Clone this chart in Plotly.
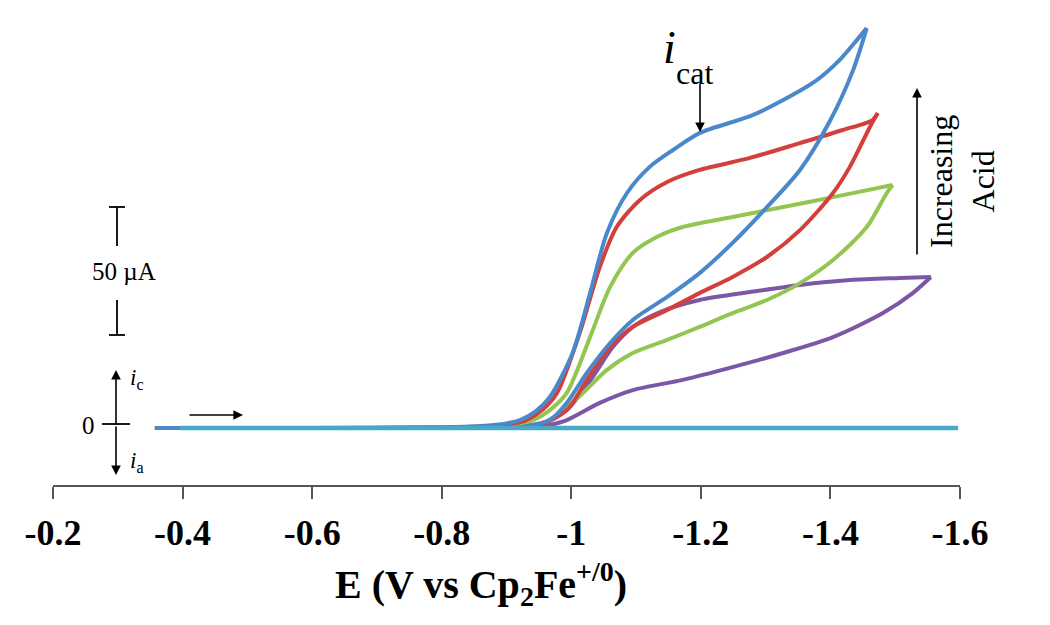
import plotly.graph_objects as go

# ---------------- data (E in V vs Cp2Fe+/0, current in µA, cathodic positive) -------------
blue_fwd_E = [-0.357, -0.6, -0.8, -0.86, -0.90, -0.921, -0.945, -0.967, -1.002, -1.029, -1.055, -1.086, -1.121, -1.157, -1.198, -1.278, -1.327, -1.379, -1.414, -1.441, -1.456]
blue_fwd_I = [0, 0, 0.3, 0.8, 1.8, 3.1, 6.5, 12.1, 29.3, 52.7, 76.2, 91.8, 102.0, 108.6, 115.2, 122.0, 128.1, 135.9, 143.7, 151.6, 156.2]
blue_ret_E = [-1.456, -1.435, -1.400, -1.353, -1.302, -1.249, -1.198, -1.148, -1.095, -1.060, -1.024, -0.993, -0.967, -0.93, -0.90]
blue_ret_I = [156.2, 139.8, 120.3, 100.8, 86.3, 72.3, 60.5, 51.2, 42.2, 33.2, 21.5, 9.8, 3.1, 0.6, 0]

red_fwd_E = [-0.376, -0.6, -0.8, -0.86, -0.905, -0.931, -0.955, -0.978, -1.013, -1.044, -1.070, -1.106, -1.148, -1.198, -1.276, -1.353, -1.419, -1.465, -1.473]
red_fwd_I = [0, 0, 0.2, 0.6, 1.5, 3.1, 7.0, 13.7, 37.1, 62.9, 78.5, 89.1, 96.1, 100.8, 105.5, 111.3, 116.4, 120.3, 123.0]
red_ret_E = [-1.473, -1.461, -1.430, -1.404, -1.353, -1.302, -1.249, -1.198, -1.148, -1.095, -1.060, -1.024, -0.993, -0.95, -0.92]
red_ret_I = [123.0, 117.6, 102.0, 91.8, 77.3, 66.8, 59.0, 52.7, 46.1, 39.5, 31.6, 18.8, 7.0, 0.8, 0]

green_fwd_E = [-0.40, -0.6, -0.8, -0.87, -0.915, -0.941, -0.967, -0.993, -1.029, -1.060, -1.095, -1.132, -1.172, -1.249, -1.327, -1.404, -1.496]
green_fwd_I = [0, 0, 0.2, 0.6, 1.5, 3.1, 7.0, 13.7, 35.5, 55.1, 68.4, 74.6, 78.5, 82.4, 86.3, 90.2, 94.9]
green_ret_E = [-1.496, -1.487, -1.456, -1.404, -1.353, -1.302, -1.249, -1.198, -1.148, -1.095, -1.055, -1.018, -0.982, -0.95, -0.93]
green_ret_I = [94.9, 91.8, 78.5, 65.6, 56.6, 50.0, 44.9, 39.5, 34.4, 29.3, 22.7, 13.7, 5.9, 1.0, 0]

purple_fwd_E = [-0.40, -0.6, -0.85, -0.92, -0.956, -0.993, -1.033, -1.064, -1.095, -1.137, -1.198, -1.276, -1.353, -1.430, -1.507, -1.555]
purple_fwd_I = [0, 0, 0.2, 0.8, 2.0, 7.0, 19.9, 31.6, 39.5, 45.3, 50.0, 53.1, 55.9, 57.8, 58.6, 59.0]
purple_ret_E = [-1.555, -1.527, -1.481, -1.404, -1.327, -1.249, -1.172, -1.095, -1.044, -0.993, -0.967, -0.94]
purple_ret_I = [59.0, 52.7, 44.9, 35.5, 29.3, 23.8, 18.8, 14.8, 9.8, 3.1, 1.2, 0]

blank_E = [-0.396, -1.597]
blank_I = [0, 0]

tick_vals = [-0.2, -0.4, -0.6, -0.8, -1.0, -1.2, -1.4, -1.6]
tick_text = ["-0.2", "-0.4", "-0.6", "-0.8", "-1", "-1.2", "-1.4", "-1.6"]

# ---------------- styling ----------------
BLUE = "#4a88cb"
RED = "#d3403c"
GREEN = "#93c651"
PURPLE = "#7d57a7"
CYAN = "#47a9c6"
SERIF = "Liberation Serif"

# plot area in reference pixels: x 53..960, y 20..485
def X(px):
    return -0.2 - (px - 53) / 648.0

def Y(py):
    return (428 - py) / 2.56

def PX(px):
    return (px - 53) / 907.0

def PY(py):
    return (485 - py) / 465.0

fig = go.Figure()

for E, I, c in [
    (purple_fwd_E, purple_fwd_I, PURPLE), (purple_ret_E, purple_ret_I, PURPLE),
    (green_fwd_E, green_fwd_I, GREEN), (green_ret_E, green_ret_I, GREEN),
    (red_fwd_E, red_fwd_I, RED), (red_ret_E, red_ret_I, RED),
    (blue_fwd_E, blue_fwd_I, BLUE), (blue_ret_E, blue_ret_I, BLUE),
]:
    fig.add_trace(go.Scatter(x=E, y=I, mode="lines",
                             line=dict(color=c, width=4, shape="spline", smoothing=0.8),
                             showlegend=False, hoverinfo="skip"))

fig.add_trace(go.Scatter(x=blank_E, y=blank_I, mode="lines",
                         line=dict(color=CYAN, width=4.5), showlegend=False, hoverinfo="skip"))

fig.update_layout(
    width=1050, height=625,
    margin=dict(l=45, r=98, t=12, b=148),
    paper_bgcolor="white", plot_bgcolor="white",
    xaxis=dict(range=[-0.2, -1.6], tickvals=tick_vals,
               ticktext=["<b>%s</b>" % t for t in tick_text],
               showgrid=False, zeroline=False, showline=True, linecolor="#555555", linewidth=1.5,
               ticks="outside", ticklen=12, tickwidth=1.5, tickcolor="#555555",
               tickfont=dict(family=SERIF, size=36, color="black"), ticklabelstandoff=3),
    yaxis=dict(range=[Y(485), Y(20)], showgrid=False, zeroline=False, showline=False,
               showticklabels=False, ticks=""),
)

ann = []
def text(px, py, t, size, **kw):
    ann.append(dict(x=PX(px), y=PY(py), xref="paper", yref="paper", text=t, showarrow=False,
                    xanchor="center", yanchor="middle",
                    font=dict(family=SERIF, size=size, color="black"), **kw))

def arrow(hx, hy, tx, ty):
    ann.append(dict(x=PX(hx), y=PY(hy), xref="paper", yref="paper", text="", showarrow=True,
                    ax=tx - hx, ay=ty - hy, arrowhead=2, arrowsize=1.2, arrowwidth=1.6,
                    arrowcolor="black"))

# axis title
text(481, 584, "<b>E (V vs Cp<sub>2</sub>Fe<sup>+/0</sup>)</b>", 40)

text(124, 271, "50 µA", 25)
text(88, 425, "0", 25)
text(137, 379, "<i>i</i><sub>c</sub>", 23)
text(137, 462, "<i>i</i><sub>a</sub>", 23)
text(669, 48, "<i>i</i>", 46)
text(694, 73, "cat", 32)
text(962, 182, "Increasing<br>Acid", 32, textangle=-90)

arrow(700, 132, 700, 82)
arrow(917, 88, 917, 256)
arrow(243, 415, 188, 415)
arrow(116, 370, 116, 425)
arrow(116, 475, 116, 425)

fig.update_layout(annotations=ann)

shapes = []
def seg(x0, y0, x1, y1, w=1.8):
    shapes.append(dict(type="line", xref="paper", yref="paper",
                       x0=PX(x0), y0=PY(y0), x1=PX(x1), y1=PY(y1),
                       line=dict(color="black", width=w)))

seg(117, 207, 117, 246)
seg(109, 207, 125, 207)
seg(117, 300, 117, 335)
seg(109, 335, 125, 335)
seg(102, 424, 130, 424)
fig.update_layout(shapes=shapes)

fig.write_html("out.html")
